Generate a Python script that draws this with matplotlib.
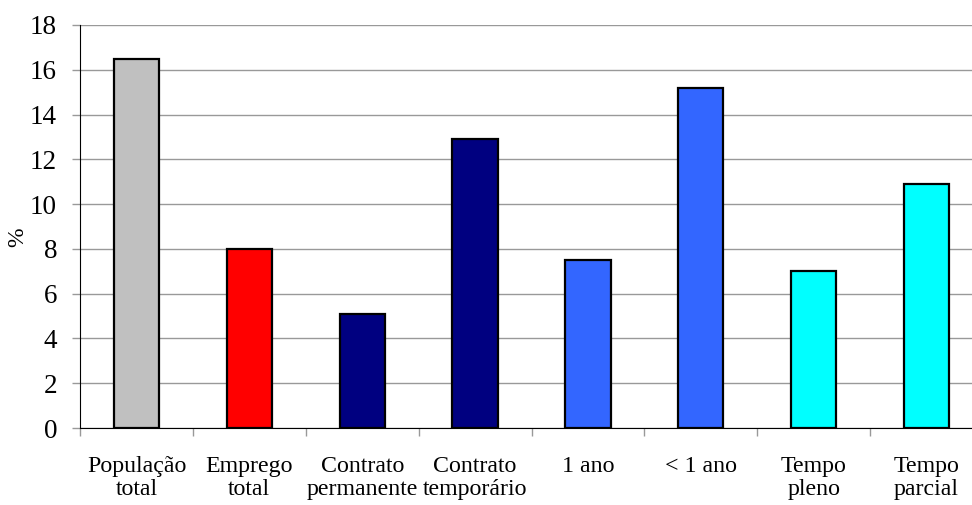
import numpy as np
import matplotlib.pyplot as plt

categorias = ["População\ntotal", "Emprego\ntotal", "Contrato\npermanente",
              "Contrato\ntemporário", "1 ano", "< 1 ano", "Tempo\npleno", "Tempo\nparcial"]
valores = [16.5, 8.0, 5.1, 12.9, 7.5, 15.2, 7.0, 10.9]
cores = ["#C0C0C0", "#FF0000", "#000080", "#000080", "#3366FF", "#3366FF", "#00FFFF", "#00FFFF"]

plt.rcParams['font.family'] = ['Liberation Serif', 'DejaVu Serif']

fig = plt.figure(figsize=(9.72, 5.05), dpi=100)
ax = fig.add_axes([80 / 972, 77 / 505, 903 / 972, 403 / 505])

x = np.arange(len(valores))
ax.bar(x, valores, 0.4, color=cores, edgecolor='black', linewidth=1.6, zorder=3)

ax.set_xlim(-0.5, len(valores) - 0.5)
ax.set_ylim(0, 18)
ax.set_yticks(np.arange(0, 19, 2))
ax.grid(axis='y', color='#999999', linewidth=1.0, zorder=0)

# ticks between categories, labels centred under each bar
ax.set_xticks(np.arange(-0.5, len(valores), 1))
ax.set_xticklabels([])
ax.set_xticks(x, minor=True)
ax.set_xticklabels(categorias, minor=True, fontsize=17.2, linespacing=1.15)
ax.tick_params(axis='x', which='major', direction='out', length=6, color='#999999', width=1)
ax.tick_params(axis='x', which='minor', length=0, pad=20)
ax.tick_params(axis='y', direction='out', length=6, color='#999999', width=1, labelsize=19.5, pad=10.5)

for side in ['top', 'right']:
    ax.spines[side].set_visible(False)
ax.spines['left'].set_color('black')
ax.spines['bottom'].set_color('black')

ax.set_ylabel('%', fontsize=17)
ax.yaxis.set_label_coords(-0.057, 0.474)

fig.savefig('out.png', dpi=100)
